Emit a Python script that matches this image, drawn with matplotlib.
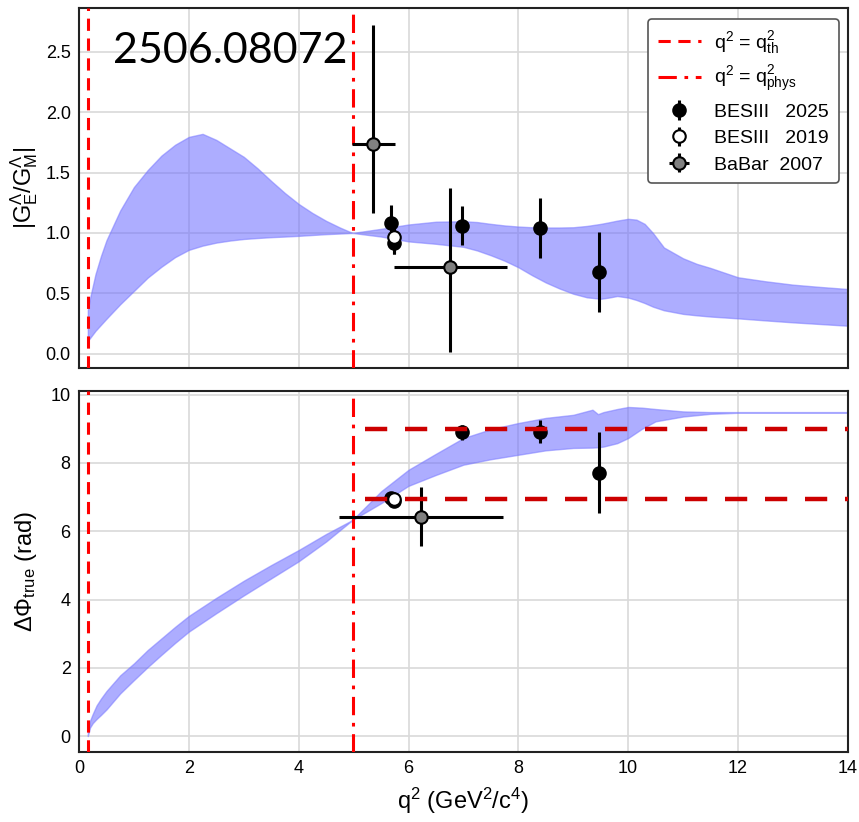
import matplotlib
matplotlib.use("Agg")
import matplotlib.pyplot as plt
import numpy as np

#PARAMETERS-------------
plt.rcParams.update({
    'font.family': ['Liberation Sans', 'DejaVu Sans'],
    'font.size': 13,
    'mathtext.fontset': 'custom',
    'mathtext.rm': 'Liberation Sans',
    'mathtext.it': 'Liberation Sans',
    'mathtext.bf': 'Liberation Sans:bold',
    'mathtext.default': 'regular',
})

q2_th = 0.16
q2_phys = 4.98

# |GE/GM| band
x_top = [0.16, 0.2, 0.3, 0.4, 0.5, 0.75, 1.0, 1.25, 1.5, 1.75, 2.0, 2.25, 2.5, 2.75,
         3.0, 3.25, 3.5, 3.75, 4.0, 4.25, 4.5, 4.75, 4.98,
         5.5, 6.0, 6.5, 7.0, 7.25, 7.5, 7.75, 8.0, 8.25, 8.5, 8.75, 9.0, 9.25, 9.5, 9.65,
         9.8, 10.0, 10.15, 10.3, 10.45, 10.65, 11.0, 11.25, 11.5, 12.0, 12.5, 13.0, 13.5, 14.0]
top_lo = [0.108, 0.13, 0.19, 0.24, 0.29, 0.41, 0.52, 0.63, 0.72, 0.80, 0.86, 0.895, 0.92, 0.937,
          0.95, 0.958, 0.965, 0.97, 0.976, 0.983, 0.99, 0.995, 1.0,
          0.97, 0.93, 0.91, 0.885, 0.855, 0.815, 0.77, 0.716, 0.65, 0.59, 0.54, 0.497, 0.467, 0.455, 0.465,
          0.478, 0.465, 0.445, 0.42, 0.39, 0.36, 0.33, 0.318, 0.308, 0.293, 0.276, 0.26, 0.246, 0.232]
top_hi = [0.36, 0.46, 0.66, 0.81, 0.94, 1.186, 1.38, 1.52, 1.64, 1.73, 1.795, 1.82, 1.77, 1.70,
          1.63, 1.535, 1.43, 1.33, 1.24, 1.165, 1.10, 1.045, 1.0,
          1.034, 1.07, 1.093, 1.097, 1.09, 1.075, 1.062, 1.053, 1.047, 1.045, 1.045, 1.047, 1.058, 1.075, 1.088,
          1.102, 1.117, 1.11, 1.075, 1.0, 0.88, 0.79, 0.744, 0.71, 0.633, 0.60, 0.572, 0.553, 0.536]

# Delta Phi band
x_bot = [0.16, 0.2, 0.25, 0.32, 0.4, 0.5, 0.75, 1.0, 1.25, 1.5, 1.75, 2.0, 2.5, 3.0,
         3.5, 4.0, 4.5, 4.98,
         5.5, 6.0, 6.5, 7.0, 7.5, 8.0, 8.5, 9.0, 9.35, 9.45, 9.55, 9.8, 10.0,
         10.25, 10.5, 11.0, 11.5, 12.0, 13.0, 14.0]
bot_lo = [0.0, 0.25, 0.38, 0.50, 0.62, 0.78, 1.25, 1.64, 2.02, 2.38, 2.73, 3.06, 3.60, 4.12,
          4.62, 5.12, 5.70, 6.33,
          6.82, 7.33, 7.65, 7.95, 8.11, 8.24, 8.37, 8.44, 8.45, 8.46, 8.48, 8.58, 8.73,
          9.0, 9.22, 9.36, 9.44, 9.47, 9.47, 9.47]
bot_hi = [0.08, 0.45, 0.65, 0.90, 1.10, 1.32, 1.78, 2.13, 2.52, 2.86, 3.20, 3.52, 4.05, 4.55,
          5.01, 5.45, 5.92, 6.33,
          7.17, 7.80, 8.27, 8.73, 8.99, 9.17, 9.32, 9.41, 9.56, 9.43, 9.49, 9.58, 9.64,
          9.62, 9.58, 9.51, 9.49, 9.49, 9.49, 9.49]

# BESIII 2025
bes25_x = [5.69, 5.74, 6.98, 8.39, 9.47]
bes25_r = [1.084, 0.915, 1.061, 1.042, 0.674]
bes25_r_err = [0.15, 0.09, 0.16, 0.25, 0.33]
bes25_phi = [6.97, 6.90, 8.90, 8.92, 7.72]
bes25_phi_err = [0.10, 0.10, 0.22, 0.33, 1.2]

# BESIII 2019
bes19_x = [5.74]
bes19_r = [0.964]
bes19_r_err = [0.14]
bes19_phi = [6.93]
bes19_phi_err = [0.10]

# BaBar 2007
babar_x = [5.36, 6.76]
babar_xerr = [0.39, 1.03]
babar_r = [1.733, 0.716]
babar_r_lo = [0.564, 0.705]
babar_r_hi = [0.99, 0.655]
babar_phi_x = [6.23]
babar_phi_xerr = [1.49]
babar_phi = [6.43]
babar_phi_err = [0.86]

# horizontal reference lines in the phase panel
phi_lines = [9.0, 6.94]
phi_lines_start = 5.2

xticks = np.arange(0, 15, 2)
#------------------------

fig = plt.figure(figsize=(8.59, 8.22), dpi=100)
ax1 = fig.add_axes([0.092, 0.552, 0.895, 0.438])
ax2 = fig.add_axes([0.092, 0.085, 0.895, 0.439])

band_kw = dict(facecolor='#6b6bff', alpha=0.55, edgecolor='#7a7aff', linewidth=1.0, zorder=2)
eb_kw = dict(fmt='o', color='black', ecolor='black', elinewidth=2.2, capsize=0,
             markersize=9, markeredgecolor='black', markeredgewidth=1.5, zorder=5)

for ax in (ax1, ax2):
    ax.set_xlim(0, 14)
    ax.set_xticks(xticks)
    ax.grid(color='#d9d9d9', linewidth=1.2, zorder=0)
    ax.set_axisbelow(True)
    ax.tick_params(length=0, labelsize=13, pad=6)
    for s in ax.spines.values():
        s.set_linewidth(1.5)
        s.set_color('#222222')
    ax.axvline(q2_th, color='#ff0000', linestyle=(0, (4, 2.5)), linewidth=2.2, zorder=3,
               label='q$^2$ = q$^2_{th}$')
    ax.axvline(q2_phys, color='#ff0000', linestyle=(0, (6, 2.5, 1.2, 2.5)), linewidth=2.2, zorder=3,
               label='q$^2$ = q$^2_{phys}$')

# top panel
ax1.fill_between(x_top, top_lo, top_hi, **band_kw)
ax1.errorbar(bes25_x, bes25_r, yerr=bes25_r_err, markerfacecolor='black', label='BESIII   2025', **eb_kw)
ax1.errorbar(bes19_x, bes19_r, yerr=bes19_r_err, markerfacecolor='white', label='BESIII   2019', **eb_kw)
ax1.errorbar(babar_x, babar_r, xerr=babar_xerr, yerr=[babar_r_lo, babar_r_hi],
             markerfacecolor='#808080', label='BaBar  2007', **eb_kw)
ax1.set_ylim(-0.12, 2.86)
ax1.set_yticks([0.0, 0.5, 1.0, 1.5, 2.0, 2.5])
ax1.set_yticklabels(['0.0', '0.5', '1.0', '1.5', '2.0', '2.5'])
ax1.tick_params(labelbottom=False)
ax1.set_ylabel(r'$|G^Λ_E/G^Λ_M|$', fontsize=17, labelpad=4)
ax1.text(0.044, 0.847, '2506.08072', transform=ax1.transAxes, fontsize=31,
         family=['Lato', 'DejaVu Sans'], va='baseline', ha='left', zorder=6)
leg = ax1.legend(loc='upper right', bbox_to_anchor=(0.988, 0.97), borderaxespad=0,
                 fontsize=14, frameon=True, fancybox=True, framealpha=1,
                 edgecolor='#555555', handlelength=2.2, handletextpad=0.7,
                 labelspacing=0.45, borderpad=0.5)
leg.get_frame().set_linewidth(1.2)
leg.set_zorder(10)

# bottom panel
ax2.fill_between(x_bot, bot_lo, bot_hi, **band_kw)
ax2.errorbar(bes25_x, bes25_phi, yerr=bes25_phi_err, markerfacecolor='black', **eb_kw)
ax2.errorbar(bes19_x, bes19_phi, yerr=bes19_phi_err, markerfacecolor='white', **eb_kw)
ax2.errorbar(babar_phi_x, babar_phi, xerr=babar_phi_xerr, yerr=babar_phi_err,
             markerfacecolor='#808080', **eb_kw)
ax2.hlines(phi_lines, phi_lines_start, 14, colors='#cc0000', linestyles=(0, (5, 4)),
           linewidth=3.2, zorder=6)
ax2.set_ylim(-0.47, 10.1)
ax2.set_yticks([0, 2, 4, 6, 8, 10])
ax2.set_ylabel(r'$ΔΦ_{true}$ (rad)', fontsize=17, labelpad=8)
ax2.set_xlabel(r'q$^2$ (GeV$^2$/c$^4$)', fontsize=17, labelpad=6)

plt.savefig('out.png', dpi=100)
